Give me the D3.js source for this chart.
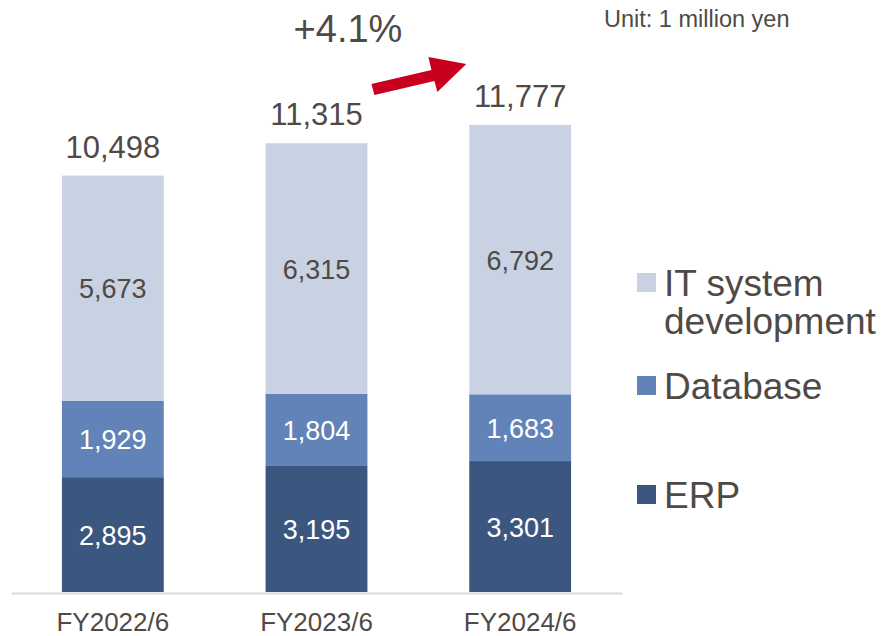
<!DOCTYPE html>
<html>
<head>
<meta charset="utf-8">
<script src="https://cdn.jsdelivr.net/npm/d3@7"></script>
<style>
  body { margin: 0; background: #fff; }
  svg text { font-family: "Liberation Sans", Arial, sans-serif; }
</style>
</head>
<body>
<div id="chart"></div>
<script>
const years = ["FY2022/6", "FY2023/6", "FY2024/6"];
const erp = [2895, 3195, 3301];
const database = [1929, 1804, 1683];
const itDev = [5673, 6315, 6792];
const totals = [10498, 11315, 11777];
const seriesNames = ["IT system development", "Database", "ERP"];
const growthLabel = "+4.1%";
const unitLabel = "Unit: 1 million yen";

const width = 881;
const height = 636;
const textColor = "#4f4a45";
const colors = { ERP: "#3b577f", Database: "#6283b7", IT: "#c8d2e3" };

const svg = d3
  .select("#chart")
  .append("svg")
  .attr("width", width)
  .attr("height", height);

const x = d3.scaleBand().domain(years).range([11, 622]).paddingInner(0.5).paddingOuter(0.25);
const y = d3.scaleLinear().domain([0, 12000]).range([592, 116]);

// stack the three series, bottom to top
const rows = years.map((yr, i) => ({ year: yr, ERP: erp[i], Database: database[i], IT: itDev[i] }));
const keys = ["ERP", "Database", "IT"];
const stacked = d3.stack().keys(keys)(rows);

const layer = svg
  .selectAll("g.layer")
  .data(stacked)
  .join("g")
  .attr("class", "layer")
  .attr("fill", (d) => colors[d.key]);

layer
  .selectAll("rect")
  .data((d) => d)
  .join("rect")
  .attr("x", (d) => x(d.data.year))
  .attr("y", (d) => y(d[1]))
  .attr("width", x.bandwidth())
  .attr("height", (d) => y(d[0]) - y(d[1]));

// segment value labels
stacked.forEach((s) => {
  svg
    .append("g")
    .selectAll("text")
    .data(s)
    .join("text")
    .attr("x", (d) => x(d.data.year) + x.bandwidth() / 2)
    .attr("y", (d) => (y(d[0]) + y(d[1])) / 2)
    .attr("dy", "0.38em")
    .attr("text-anchor", "middle")
    .attr("font-size", 27)
    .attr("fill", s.key === "IT" ? textColor : "#ffffff")
    .text((d) => d3.format(",")(d[1] - d[0]));
});

// totals
svg
  .append("g")
  .selectAll("text")
  .data(totals)
  .join("text")
  .attr("x", (d, i) => x(years[i]) + x.bandwidth() / 2)
  .attr("y", (d) => y(d) - 18)
  .attr("text-anchor", "middle")
  .attr("font-size", 31)
  .attr("fill", textColor)
  .text((d) => d3.format(",")(d));

// x axis
const xAxis = svg
  .append("g")
  .attr("transform", "translate(0,593)")
  .call(d3.axisBottom(x).tickSize(0).tickPadding(20));
xAxis.select(".domain").attr("stroke", "#d9d9d9").attr("stroke-width", 2);
xAxis
  .selectAll("text")
  .attr("font-size", 26)
  .attr("fill", textColor)
  .style("font-family", "'Liberation Sans', Arial, sans-serif");

// growth arrow between FY2023 and FY2024
const ax0 = x(years[1]) + x.bandwidth() + 4;
const ax1 = x(years[2]) - 3;
const arrow = d3.path();
arrow.moveTo(ax0, 84);
arrow.lineTo(ax0 + 60, 70);
arrow.lineTo(ax0 + 57, 57);
arrow.lineTo(ax1, 64);
arrow.lineTo(ax0 + 66, 92);
arrow.lineTo(ax0 + 63, 81);
arrow.lineTo(ax0 + 3, 95);
arrow.closePath();
svg.append("path").attr("d", arrow.toString()).attr("fill", "#c8001e");

svg
  .append("text")
  .attr("x", 348)
  .attr("y", 42)
  .attr("text-anchor", "middle")
  .attr("font-size", 38)
  .attr("fill", textColor)
  .text(growthLabel);

svg
  .append("text")
  .attr("x", 604)
  .attr("y", 27)
  .attr("font-size", 23.5)
  .attr("fill", textColor)
  .text(unitLabel);

// legend
const legendItems = [
  { name: seriesNames[0], color: colors.IT, lines: ["IT system", "development"], y: 273 },
  { name: seriesNames[1], color: colors.Database, lines: ["Database"], y: 376 },
  { name: seriesNames[2], color: colors.ERP, lines: ["ERP"], y: 485 }
];
const legend = svg
  .append("g")
  .selectAll("g")
  .data(legendItems)
  .join("g")
  .attr("transform", (d) => `translate(637,${d.y})`);
legend.append("rect").attr("width", 19).attr("height", 19).attr("fill", (d) => d.color);
legend
  .append("text")
  .attr("x", 27)
  .attr("y", 23)
  .attr("font-size", 37)
  .attr("fill", textColor)
  .selectAll("tspan")
  .data((d) => d.lines)
  .join("tspan")
  .attr("x", 27)
  .attr("dy", (d, i) => (i === 0 ? 0 : 38))
  .text((d) => d);
</script>
</body>
</html>
